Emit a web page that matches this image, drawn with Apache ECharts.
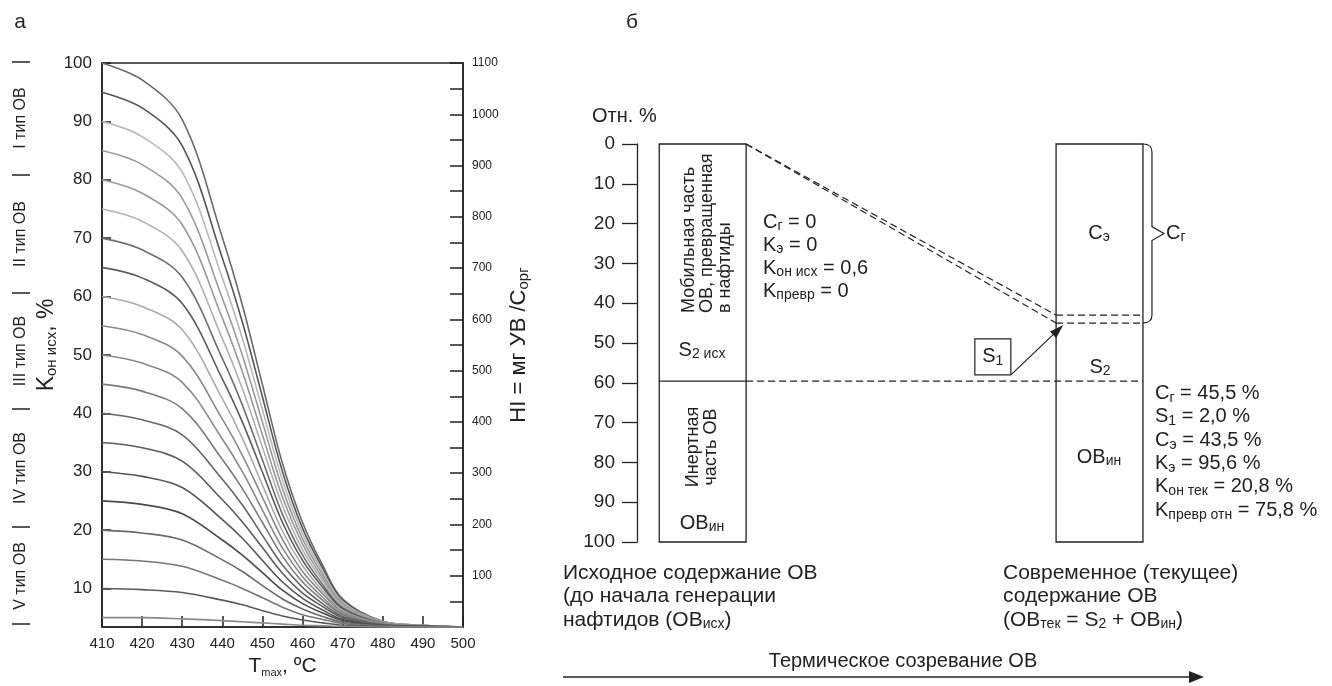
<!DOCTYPE html>
<html>
<head>
<meta charset="utf-8">
<title>Кон исх и схема созревания ОВ</title>
<script src="https://cdn.jsdelivr.net/npm/echarts@6.0.0/dist/echarts.min.js"></script>
<style>
  html, body { margin: 0; padding: 0; background: #fff; }
  #chart { width: 1332px; height: 686px; }
</style>
</head>
<body>
<div id="chart"></div>
<script>
var FONT = '"Liberation Sans", Arial, Helvetica, sans-serif';
var INK = '#222';

// ---- панель а: Кон исх (HI) от Tmax ----
var tmax = [410, 420, 430, 440, 445, 450, 455, 460, 465, 470, 480, 490, 500];
var curves = [
  [100, 97.1, 90.3, 70.1, 58.5, 44.9, 31.4, 21.3, 14.0, 8.2, 4.4, 3.7, 3.4],
  [95, 92.3, 85.8, 66.6, 55.6, 42.8, 30.0, 20.3, 13.5, 8.0, 4.3, 3.7, 3.4],
  [90, 87.4, 81.3, 63.2, 52.8, 40.6, 28.5, 19.4, 12.9, 7.7, 4.3, 3.7, 3.4],
  [85, 82.6, 76.8, 59.7, 49.9, 38.5, 27.1, 18.5, 12.4, 7.5, 4.2, 3.6, 3.4],
  [80, 77.7, 72.3, 56.3, 47.1, 36.3, 25.6, 17.6, 11.8, 7.2, 4.2, 3.6, 3.4],
  [75, 72.9, 67.8, 52.8, 44.2, 34.2, 24.2, 16.6, 11.3, 7.0, 4.1, 3.6, 3.4],
  [70, 68.0, 63.3, 49.4, 41.4, 32.0, 22.7, 15.7, 10.7, 6.7, 4.1, 3.6, 3.4],
  [65, 63.2, 58.8, 45.9, 38.5, 29.9, 21.3, 14.8, 10.2, 6.5, 4.0, 3.6, 3.4],
  [60, 58.3, 54.3, 42.5, 35.7, 27.7, 19.8, 13.9, 9.6, 6.2, 4.0, 3.6, 3.4],
  [55, 53.5, 49.8, 39.0, 32.8, 25.6, 18.4, 12.9, 9.1, 6.0, 3.9, 3.6, 3.4],
  [50, 48.6, 45.3, 35.6, 30.0, 23.4, 16.9, 12.0, 8.5, 5.7, 3.9, 3.5, 3.4],
  [45, 43.8, 40.8, 32.1, 27.1, 21.3, 15.5, 11.1, 8.0, 5.5, 3.8, 3.5, 3.4],
  [40, 38.9, 36.3, 28.7, 24.3, 19.1, 14.0, 10.2, 7.4, 5.2, 3.8, 3.5, 3.4],
  [35, 34.1, 31.8, 25.2, 21.4, 17.0, 12.6, 9.2, 6.9, 5.0, 3.7, 3.5, 3.4],
  [30, 29.2, 27.3, 21.8, 18.6, 14.8, 11.1, 8.3, 6.3, 4.7, 3.7, 3.5, 3.4],
  [25, 24.4, 22.8, 18.3, 15.7, 12.7, 9.7, 7.4, 5.8, 4.5, 3.6, 3.5, 3.4],
  [20, 19.5, 18.3, 14.9, 12.9, 10.5, 8.2, 6.5, 5.2, 4.2, 3.6, 3.4, 3.4],
  [15, 14.7, 13.8, 11.4, 10.0, 8.4, 6.8, 5.5, 4.7, 4.0, 3.5, 3.4, 3.4],
  [10, 9.8, 9.3, 8.0, 7.2, 6.2, 5.3, 4.6, 4.1, 3.7, 3.5, 3.4, 3.4],
  [5, 5.0, 4.8, 4.5, 4.3, 4.1, 3.9, 3.7, 3.6, 3.5, 3.4, 3.4, 3.4]
];
var curveColors = ['#6a6a6a', '#555', '#b8b8b8', '#9a9a9a', '#999', '#b0b0b0', '#6e6e6e', '#5a5a5a', '#aaa', '#8a8a8a',
  '#888', '#7a7a7a', '#666', '#5c5c5c', '#555', '#4a4a4a', '#6a6a6a', '#777', '#5a5a5a', '#8a8a8a'];
var konTicks = [10, 20, 30, 40, 50, 60, 70, 80, 90, 100];
var hiTicks = [50, 100, 150, 200, 250, 300, 350, 400, 450, 500, 550, 600, 650, 700, 750, 800, 850, 900, 950, 1000, 1050, 1100];
var hiLabels = [100, 200, 300, 400, 500, 600, 700, 800, 900, 1000, 1100];
var typeNames = ['I тип ОВ', 'II тип ОВ', 'III тип ОВ', 'IV тип ОВ', 'V тип ОВ'];

// ---- панель б: схема (отн. %) ----
var initialBounds = [0, 59.6, 100];          // S2 исх | ОВин
var currentBounds = [0, 43, 45, 59.6, 100];  // Cэ | S1 | S2 | ОВин
var initialStats = ['{m|C}{s|г}{m| = 0}', '{m|K}{s|э}{m| = 0}', '{m|K}{s|он исх}{m| = 0,6}', '{m|K}{s|превр}{m| = 0}'];
var currentStats = ['{m|C}{s|г}{m| = 45,5 %}', '{m|S}{s|1}{m| = 2,0 %}', '{m|C}{s|э}{m| = 43,5 %}',
  '{m|K}{s|э}{m| = 95,6 %}', '{m|K}{s|он тек}{m| = 20,8 %}', '{m|K}{s|превр отн}{m| = 75,8 %}'];

// layout of the scheme columns on the hidden x axis (0..100)
var colInit = [3.2, 15.7];
var colCur = [60.3, 72.8];

function richSet(size, sub, lh) {
  lh = lh || Math.round(size * 1.15);
  var slh = lh - Math.round(size * 0.5);
  return {
    m: { fontSize: size, fontFamily: FONT, color: INK, fill: INK, lineHeight: lh },
    s: { fontSize: sub, fontFamily: FONT, color: INK, fill: INK, lineHeight: slh, verticalAlign: 'bottom' }
  };
}

function seg(p, q, dashed) {
  return {
    type: 'line', xAxisIndex: 1, yAxisIndex: 2, data: [p, q], symbol: 'none', silent: true, z: 3,
    lineStyle: { color: INK, width: 1.2, type: dashed ? [7, 4] : 'solid' }
  };
}

var series = curves.map(function (vals, i) {
  return {
    type: 'line', xAxisIndex: 0, yAxisIndex: 0, smooth: 0.35,
    symbol: 'none', silent: true,
    lineStyle: { color: curveColors[i], width: 1.6 },
    data: tmax.map(function (t, j) { return [t, vals[j]]; })
  };
});

// columns
series.push({
  type: 'custom', xAxisIndex: 1, yAxisIndex: 2, z: 2, silent: true,
  encode: { x: [0, 1], y: [2, 3] },
  data: [[colInit[0], colInit[1], initialBounds[0], initialBounds[2]], [colCur[0], colCur[1], currentBounds[0], currentBounds[4]]],
  renderItem: function (params, api) {
    var a = api.coord([api.value(0), api.value(2)]);
    var b = api.coord([api.value(1), api.value(3)]);
    return { type: 'rect', shape: { x: a[0], y: a[1], width: b[0] - a[0], height: b[1] - a[1] },
      style: { fill: '#fff', stroke: INK, lineWidth: 1.3 } };
  }
});
series.push(seg([colInit[0], initialBounds[1]], [colInit[1], initialBounds[1]], false));
series.push(seg([colInit[1], currentBounds[3]], [colCur[1], currentBounds[3]], true));
series.push(seg([colCur[0], currentBounds[1]], [colCur[1], currentBounds[1]], true));
series.push(seg([colCur[0], currentBounds[2]], [colCur[1], currentBounds[2]], true));
series.push(seg([colInit[1], initialBounds[0]], [colCur[0], currentBounds[1]], true));
series.push(seg([colInit[1], initialBounds[0]], [colCur[0], currentBounds[2]], true));

// S1 box with arrow
series.push({
  type: 'scatter', xAxisIndex: 1, yAxisIndex: 2, z: 5, silent: true,
  data: [[51.2, 53.5]],
  symbol: 'rect', symbolSize: [36, 36],
  itemStyle: { color: '#fff', borderColor: INK, borderWidth: 1.2, opacity: 1 },
  label: { show: true, position: 'inside', color: INK, formatter: '{m|S}{s|1}', rich: richSet(20, 14) },
  markLine: {
    silent: true, symbol: ['none', 'triangle'], symbolSize: [9, 14],
    lineStyle: { color: INK, width: 1.2, type: 'solid', opacity: 1 },
    itemStyle: { color: INK },
    label: { show: false },
    data: [[{ coord: [53.8, 58.0] }, { coord: [60.6, 46.7] }]]
  }
});

// brace Cг
series.push({
  type: 'custom', xAxisIndex: 1, yAxisIndex: 2, z: 4, silent: true,
  data: [[colCur[1], currentBounds[0], currentBounds[2]]],
  renderItem: function (params, api) {
    var t = api.coord([api.value(0), api.value(1)]);
    var b = api.coord([api.value(0), api.value(2)]);
    var x0 = t[0], xm = t[0] + 9, xt = t[0] + 21, ym = (t[1] + b[1]) / 2;
    var d = 'M' + x0 + ' ' + t[1] + ' Q' + xm + ' ' + t[1] + ' ' + xm + ' ' + (t[1] + 8) +
      ' L' + xm + ' ' + (ym - 7) + ' L' + xt + ' ' + ym + ' L' + xm + ' ' + (ym + 7) +
      ' L' + xm + ' ' + (b[1] - 8) + ' Q' + xm + ' ' + b[1] + ' ' + x0 + ' ' + b[1];
    return { type: 'path', shape: { pathData: d }, style: { fill: 'none', stroke: INK, lineWidth: 1.2 } };
  }
});

function txt(x, y, text, rich, align, valign, extra) {
  var el = { type: 'text', x: x, y: y, silent: true, z: 10,
    style: { text: text, rich: rich, fill: INK, align: align || 'center', verticalAlign: valign || 'middle' } };
  if (extra) { for (var k in extra) el[k] = extra[k]; }
  return el;
}
function plain(x, y, text, size, align, valign, extra) {
  var el = { type: 'text', x: x, y: y, silent: true, z: 10,
    style: { text: text, font: size + 'px ' + FONT, fill: INK, align: align || 'center', verticalAlign: valign || 'middle' } };
  if (extra) { for (var k in extra) el[k] = extra[k]; }
  return el;
}

var R20 = richSet(20, 14);
var graphics = [
  plain(20, 22, 'а', 21),
  plain(632, 22, 'б', 21),
  plain(592, 116, 'Отн. %', 20, 'left'),
  plain(707, 313, 'Мобильная часть\nОВ, превращенная\nв нафтиды', 18, 'left', 'middle', { rotation: Math.PI / 2 }),
  plain(702, 447, 'Инертная\nчасть ОВ', 18, 'center', 'middle', { rotation: Math.PI / 2 }),
  txt(702, 350, '{m|S}{s|2 исх}', R20),
  txt(702, 523, '{m|ОВ}{s|ин}', R20),
  txt(1099, 233, '{m|C}{s|э}', R20),
  txt(1100, 367, '{m|S}{s|2}', R20),
  txt(1099, 457, '{m|ОВ}{s|ин}', R20),
  txt(1166, 233, '{m|C}{s|г}', R20, 'left'),
  txt(763, 210.5, initialStats.join('\n'), R20, 'left', 'top'),
  txt(1155, 381.5, currentStats.join('\n'), richSet(20, 14, 23.4), 'left', 'top'),
  txt(563, 561, '{m|Исходное содержание ОВ}\n{m|(до начала генерации}\n{m|нафтидов (ОВ}{s|исх}{m|)}', richSet(21, 14, 23.5), 'left', 'top'),
  txt(1003, 561, '{m|Современное (текущее)}\n{m|содержание ОВ}\n{m|(ОВ}{s|тек}{m| = S}{s|2}{m| + ОВ}{s|ин}{m|)}', richSet(21, 14, 23.5), 'left', 'top'),
  plain(903, 661, 'Термическое созревание ОВ', 20),
  { type: 'line', silent: true, shape: { x1: 563, y1: 677, x2: 1192, y2: 677 }, style: { stroke: INK, lineWidth: 1.6 } },
  { type: 'polygon', silent: true, shape: { points: [[1189, 671], [1204, 677], [1189, 683]] }, style: { fill: INK } }
];
// type labels on the far left
var typeCenters = [118, 234, 351, 468, 576];
var typeDashes = [62, 175, 293, 409, 527, 624];
typeNames.forEach(function (n, i) {
  graphics.push(plain(21, typeCenters[i], n, 16, 'center', 'middle', { rotation: Math.PI / 2 }));
});
typeDashes.forEach(function (y) {
  graphics.push({ type: 'line', silent: true, shape: { x1: 12, y1: y, x2: 30, y2: y }, style: { stroke: INK, lineWidth: 1.5 } });
});

var axisLine = { show: true, lineStyle: { color: INK, width: 1.5 } };

var option = {
  animation: false,
  backgroundColor: '#fff',
  textStyle: { fontFamily: FONT },
  grid: [
    { left: 102, top: 63, width: 361, height: 564, show: true, borderColor: INK, borderWidth: 1.5 },
    { left: 637, top: 144, width: 695, height: 398 }
  ],
  xAxis: [
    {
      gridIndex: 0, type: 'value', min: 410, max: 500, interval: 10,
      axisLine: axisLine,
      axisTick: { inside: true, length: 11, lineStyle: { color: INK, width: 1.5 } },
      axisLabel: { fontSize: 15, color: INK, margin: 9, fontFamily: FONT },
      splitLine: { show: false },
      name: '{m|T}{s|max}{m|, ºC}', nameLocation: 'middle', nameGap: 26,
      nameTextStyle: { rich: richSet(21, 11) }
    },
    { gridIndex: 1, type: 'value', min: 0, max: 100, show: false }
  ],
  yAxis: [
    {
      gridIndex: 0, type: 'value', min: 3.4, max: 100,
      axisLine: axisLine,
      axisTick: { inside: true, length: 9, customValues: konTicks, lineStyle: { color: INK, width: 1.5 } },
      axisLabel: { fontSize: 17, color: INK, margin: 10, customValues: konTicks, fontFamily: FONT },
      splitLine: { show: false },
      name: '{m|K}{s|он исх}{m|, %}', nameLocation: 'middle', nameRotate: 90, nameGap: 29,
      nameTextStyle: { rich: richSet(23, 15) }
    },
    {
      gridIndex: 0, type: 'value', position: 'right', min: 0, max: 1100,
      axisLine: axisLine,
      axisTick: { inside: true, length: 13, customValues: hiTicks, lineStyle: { color: INK, width: 1.5 } },
      axisLabel: { fontSize: 12, color: INK, margin: 9, customValues: hiLabels, fontFamily: FONT,
        formatter: function (v) { return String(v); } },
      splitLine: { show: false },
      name: '{m|HI = мг УВ /C}{s|орг}', nameLocation: 'middle', nameRotate: 90, nameGap: 43,
      nameTextStyle: { rich: richSet(22, 15) }
    },
    {
      gridIndex: 1, type: 'value', inverse: true, min: 0, max: 100, interval: 10,
      axisLine: { show: true, lineStyle: { color: INK, width: 1.3 } },
      axisTick: { show: true, inside: false, length: 15, lineStyle: { color: INK, width: 1.3 } },
      axisLabel: { fontSize: 19, color: INK, margin: 22, fontFamily: FONT },
      splitLine: { show: false }
    }
  ],
  graphic: graphics,
  series: series
};

var chart = echarts.init(document.getElementById('chart'));
chart.setOption(option);
</script>
</body>
</html>
